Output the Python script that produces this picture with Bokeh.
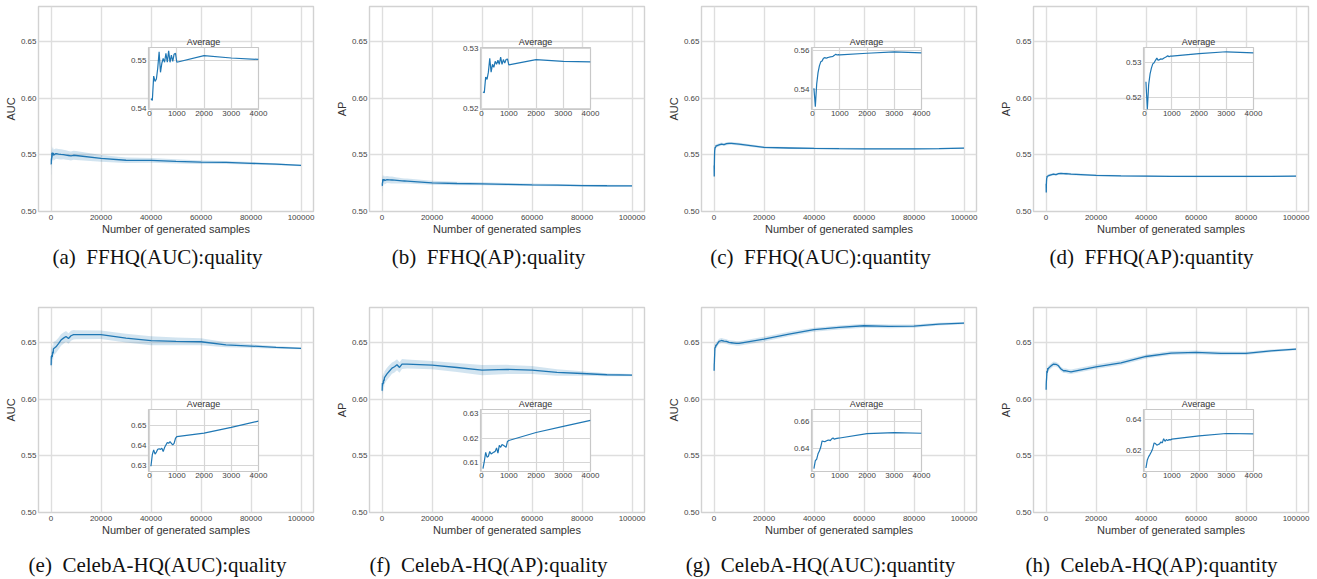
import numpy as np
from bokeh.plotting import figure
from bokeh.models import FixedTicker, PrintfTickFormatter, NumeralTickFormatter, Range1d
from bokeh.layouts import column
from bokeh.embed import file_html
from bokeh.resources import INLINE

# ---------------- data ----------------
X = [50, 100, 150, 200, 250, 300, 350, 400, 450, 500, 550, 600, 650, 700, 750, 800, 850, 900, 950, 1000,
     2000, 3000, 4000, 5000, 6000, 7000, 8000, 9000, 10000,
     20000, 30000, 40000, 50000, 60000, 70000, 80000, 90000, 100000]
N_INSET = 23  # points with x <= 4000 shown in the "Average" inset

a_mean = [0.5421, 0.5417, 0.5468, 0.5457, 0.5462, 0.5485, 0.5519, 0.5476, 0.5495, 0.5505, 0.5497, 0.5516, 0.5497, 0.5521, 0.5497, 0.5512, 0.5499, 0.5514, 0.5516, 0.5497,
          0.5511, 0.5506, 0.5503, 0.5502, 0.5498, 0.5494, 0.5490, 0.5496, 0.5494,
          0.5468, 0.5452, 0.5451, 0.5442, 0.5435, 0.5433, 0.5425, 0.5417, 0.5406]
a_std = [0.010, 0.009, 0.008, 0.008, 0.007, 0.007, 0.007, 0.0065, 0.0065, 0.006, 0.006, 0.006, 0.0055, 0.0055, 0.0055, 0.005, 0.005, 0.005, 0.005, 0.005,
         0.0045, 0.0045, 0.0045, 0.0042, 0.0042, 0.004, 0.004, 0.004, 0.004,
         0.003, 0.0024, 0.002, 0.0018, 0.0015, 0.0013, 0.0011, 0.0009, 0.0007]

b_mean = [0.5228, 0.5227, 0.5253, 0.5249, 0.5261, 0.5284, 0.5261, 0.5274, 0.5269, 0.5279, 0.5274, 0.5281, 0.5274, 0.5286, 0.5274, 0.5282, 0.5276, 0.5282, 0.5283, 0.5273,
          0.5282, 0.5279, 0.5278, 0.5276, 0.5274, 0.5272, 0.5270, 0.5269, 0.5268,
          0.5253, 0.5247, 0.5244, 0.5240, 0.5235, 0.5232, 0.5229, 0.5227, 0.5226]
b_std = [0.006, 0.006, 0.005, 0.005, 0.005, 0.0045, 0.0045, 0.0045, 0.004, 0.004, 0.004, 0.004, 0.004, 0.0035, 0.0035, 0.0035, 0.0035, 0.0035, 0.0035, 0.0035,
         0.003, 0.003, 0.003, 0.0028, 0.0026, 0.0025, 0.0024, 0.0023, 0.0022,
         0.0018, 0.0015, 0.0013, 0.0012, 0.0011, 0.001, 0.0009, 0.0008, 0.0007]

c_mean = [0.5405, 0.5308, 0.5426, 0.5487, 0.5522, 0.5543, 0.5548, 0.5562, 0.5565, 0.5562, 0.5565, 0.5567, 0.5569, 0.5570, 0.5572, 0.5577, 0.5583, 0.5579, 0.5581, 0.5579,
          0.5588, 0.5595, 0.5590, 0.5598, 0.5600, 0.5600, 0.5598, 0.5596, 0.5594,
          0.5565, 0.5560, 0.5556, 0.5554, 0.5553, 0.5553, 0.5553, 0.5555, 0.5559]
c_std = [0.003, 0.003, 0.0028, 0.0025, 0.0022, 0.002, 0.002, 0.002, 0.0018, 0.0018, 0.0018, 0.0017, 0.0017, 0.0016, 0.0016, 0.0016, 0.0015, 0.0015, 0.0015, 0.0015,
         0.0014, 0.0014, 0.0013, 0.0013, 0.0013, 0.0012, 0.0012, 0.0012, 0.0012,
         0.001, 0.0009, 0.0008, 0.0008, 0.0007, 0.0007, 0.0007, 0.0006, 0.0006]

d_mean = [0.5245, 0.5167, 0.5237, 0.5266, 0.5283, 0.5295, 0.5298, 0.5305, 0.5311, 0.5305, 0.5307, 0.5309, 0.5308, 0.5311, 0.5313, 0.5315, 0.5318, 0.5315, 0.5317, 0.5317,
          0.5324, 0.5329, 0.5326, 0.5334, 0.5335, 0.5334, 0.5333, 0.5331, 0.5329,
          0.5318, 0.5314, 0.5312, 0.5310, 0.5309, 0.5309, 0.5309, 0.5310, 0.5312]
d_std = [0.0025, 0.0025, 0.0022, 0.002, 0.0018, 0.0017, 0.0016, 0.0015, 0.0015, 0.0015, 0.0014, 0.0014, 0.0014, 0.0013, 0.0013, 0.0013, 0.0012, 0.0012, 0.0012, 0.0012,
         0.0011, 0.0011, 0.001, 0.001, 0.001, 0.001, 0.001, 0.001, 0.001,
         0.0008, 0.0007, 0.0007, 0.0006, 0.0006, 0.0006, 0.0006, 0.0005, 0.0005]

e_mean = [0.6298, 0.6355, 0.6379, 0.6358, 0.6368, 0.6382, 0.6384, 0.6381, 0.6387, 0.6371, 0.6390, 0.6403, 0.6415, 0.6411, 0.6419, 0.6411, 0.6403, 0.6411, 0.6435, 0.6444,
          0.6461, 0.6490, 0.6521, 0.6538, 0.6553, 0.6535, 0.6559, 0.6568, 0.6568,
          0.6568, 0.6538, 0.6515, 0.6509, 0.6506, 0.6479, 0.6468, 0.6456, 0.6447]
e_std = [0.010, 0.009, 0.009, 0.008, 0.008, 0.008, 0.0075, 0.0075, 0.007, 0.007, 0.007, 0.0068, 0.0066, 0.0064, 0.0062, 0.006, 0.006, 0.006, 0.006, 0.006,
         0.0055, 0.0052, 0.005, 0.005, 0.0048, 0.0046, 0.0044, 0.0042, 0.004,
         0.0037, 0.0038, 0.004, 0.0035, 0.003, 0.0022, 0.0016, 0.0012, 0.0008]

f_mean = [0.6074, 0.6104, 0.6141, 0.6121, 0.6125, 0.6145, 0.6134, 0.6138, 0.6142, 0.6145, 0.6159, 0.6138, 0.6170, 0.6162, 0.6173, 0.6170, 0.6166, 0.6162, 0.6186, 0.6190,
          0.6223, 0.6248, 0.6273, 0.6285, 0.6303, 0.6279, 0.6309, 0.6309, 0.6309,
          0.6300, 0.6279, 0.6256, 0.6262, 0.6256, 0.6235, 0.6226, 0.6215, 0.6212]
f_std = [0.009, 0.009, 0.008, 0.008, 0.008, 0.0075, 0.0075, 0.007, 0.007, 0.007, 0.0068, 0.0066, 0.0064, 0.0062, 0.006, 0.006, 0.006, 0.0058, 0.0056, 0.0055,
         0.0054, 0.0052, 0.005, 0.005, 0.0048, 0.0046, 0.0044, 0.0042, 0.004,
         0.0037, 0.004, 0.0045, 0.004, 0.0035, 0.0028, 0.002, 0.0014, 0.001]

g_mean = [0.6250, 0.6310, 0.6320, 0.6360, 0.6380, 0.6410, 0.6455, 0.6452, 0.6450, 0.6455, 0.6460, 0.6462, 0.6458, 0.6470, 0.6478, 0.6468, 0.6472, 0.6474, 0.6476, 0.6477,
          0.6510, 0.6517, 0.6512, 0.6509, 0.6500, 0.6497, 0.6494, 0.6491, 0.6491,
          0.6529, 0.6574, 0.6612, 0.6632, 0.6647, 0.6641, 0.6644, 0.6662, 0.6671]
g_std = [0.006, 0.005, 0.0045, 0.004, 0.0035, 0.0033, 0.003, 0.003, 0.003, 0.0028, 0.0028, 0.0027, 0.0027, 0.0026, 0.0026, 0.0025, 0.0025, 0.0025, 0.0025, 0.0025,
         0.0022, 0.0022, 0.002, 0.002, 0.002, 0.002, 0.002, 0.002, 0.002,
         0.002, 0.002, 0.0018, 0.0018, 0.0017, 0.0016, 0.0014, 0.0012, 0.001]

h_mean = [0.6082, 0.6135, 0.6157, 0.6172, 0.6189, 0.6211, 0.6247, 0.6243, 0.6232, 0.6237, 0.6241, 0.6254, 0.6247, 0.6275, 0.6258, 0.6269, 0.6262, 0.6269, 0.6267, 0.6272,
          0.6293, 0.6309, 0.6307, 0.6294, 0.6265, 0.6250, 0.6250, 0.6244, 0.6241,
          0.6285, 0.6320, 0.6376, 0.6406, 0.6412, 0.6403, 0.6403, 0.6426, 0.6441]
h_std = [0.005, 0.0045, 0.004, 0.0035, 0.0033, 0.003, 0.003, 0.003, 0.0028, 0.0028, 0.0027, 0.0027, 0.0026, 0.0026, 0.0025, 0.0025, 0.0025, 0.0025, 0.0025, 0.0025,
         0.0022, 0.0022, 0.002, 0.002, 0.002, 0.002, 0.002, 0.002, 0.002,
         0.002, 0.002, 0.0018, 0.0018, 0.0017, 0.0016, 0.0014, 0.0012, 0.001]

captions = ["(a)\u2002FFHQ(AUC):quality", "(b)\u2002FFHQ(AP):quality",
            "(c)\u2002FFHQ(AUC):quantity", "(d)\u2002FFHQ(AP):quantity",
            "(e)\u2002CelebA-HQ(AUC):quality", "(f)\u2002CelebA-HQ(AP):quality",
            "(g)\u2002CelebA-HQ(AUC):quantity", "(h)\u2002CelebA-HQ(AP):quantity"]
ylabels = ["AUC", "AP", "AUC", "AP", "AUC", "AP", "AUC", "AP"]
means = [a_mean, b_mean, c_mean, d_mean, e_mean, f_mean, g_mean, h_mean]
stds = [a_std, b_std, c_std, d_std, e_std, f_std, g_std, h_std]

main_xticks = [0, 20000, 40000, 60000, 80000, 100000]
main_yticks = [0.50, 0.55, 0.60, 0.65]
inset_xticks = [0, 1000, 2000, 3000, 4000]
inset_yticks = [[0.54, 0.55], [0.52, 0.53], [0.54, 0.56], [0.52, 0.53],
                [0.63, 0.64, 0.65], [0.61, 0.62, 0.63], [0.64, 0.66], [0.62, 0.64]]
inset_yrange = [(0.5398, 0.5528), (0.5199, 0.5302), (0.5294, 0.5618), (0.5167, 0.5341),
                (0.6272, 0.6578), (0.6062, 0.6318), (0.6229, 0.6688), (0.6059, 0.6467)]

# ---------------- layout / style ----------------
LINE = "#1f77b4"
SANS = "Liberation Sans"
SERIF = "Liberation Serif"
GRID = "#dedede"
FRAME = "#d2d2d2"

FRAME_L = [38, 369, 701, 1033]
FRAME_T = [6, 307]
FW, FH = 275, 205
INSET_L = [148, 480, 811, 1143]
INSET_T = [47, 409]
IW, IH = 110, 62
CAP_CX = [157, 488, 820, 1151]
CAP_TOP = [242, 550]
CAP_W = 330

# Bokeh aligns left/right borders of all plots in one column, so use the same everywhere
BL, BR = 56, 16
MB_T, MB_B = 6, 34
IB_T, IB_B = 16, 20

figs = []


def place(fig, left, top):
    fig.styles = {"position": "absolute", "left": f"{left}px", "top": f"{top}px"}
    figs.append(fig)


def style_axes(p, fs):
    for ax in (p.xaxis[0], p.yaxis[0]):
        ax.axis_line_color = None
        ax.major_tick_line_color = None
        ax.minor_tick_line_color = None
        ax.major_tick_out = 0
        ax.major_tick_in = 0
        ax.minor_tick_out = 0
        ax.minor_tick_in = 0
        ax.major_label_text_font = SANS
        ax.major_label_text_font_size = fs
        ax.major_label_text_color = "#444444"
        ax.major_label_standoff = 2
    p.grid.grid_line_color = GRID
    p.grid.grid_line_width = 1.4


for i in range(8):
    col, row = i % 4, i // 4
    xs = np.array(X, dtype=float)
    ys = np.array(means[i])
    sd = np.array(stds[i])

    p = figure(frame_width=FW, frame_height=FH,
               x_range=Range1d(-5000, 105000), y_range=Range1d(0.50, 0.6808),
               min_border_left=BL, min_border_right=BR, min_border_top=MB_T, min_border_bottom=MB_B,
               toolbar_location=None, output_backend="svg",
               background_fill_color="white", border_fill_color=None,
               outline_line_color=FRAME, outline_line_width=1.4)
    style_axes(p, "8px")
    p.xaxis.major_label_standoff = 3
    p.xaxis.ticker = FixedTicker(ticks=main_xticks)
    p.xaxis.formatter = NumeralTickFormatter(format="0")
    p.yaxis.ticker = FixedTicker(ticks=main_yticks)
    p.yaxis.formatter = PrintfTickFormatter(format="%.2f")
    p.xaxis.axis_label = "Number of generated samples"
    p.yaxis.axis_label = ylabels[i]
    for ax in (p.xaxis[0], p.yaxis[0]):
        ax.axis_label_text_font = SANS
        ax.axis_label_text_font_size = "11px"
        ax.axis_label_text_font_style = "normal"
        ax.axis_label_text_color = "#333333"
    p.xaxis.axis_label_standoff = 0
    p.yaxis.axis_label_standoff = 1
    p.varea(x=xs, y1=ys - sd, y2=ys + sd, fill_color=LINE, fill_alpha=0.2)
    p.line(x=xs, y=ys, line_color=LINE, line_width=1.3)
    place(p, FRAME_L[col] - BL, FRAME_T[row] - MB_T)

    # inset "Average"
    yr = inset_yrange[i]
    q = figure(frame_width=IW, frame_height=IH,
               x_range=Range1d(-40, 4000), y_range=Range1d(yr[0], yr[1]),
               min_border_left=BL, min_border_right=BR, min_border_top=IB_T, min_border_bottom=IB_B,
               toolbar_location=None, output_backend="svg", title="Average",
               background_fill_color="white", border_fill_color=None,
               outline_line_color="#c8c8c8", outline_line_width=1.2)
    style_axes(q, "8px")
    q.xaxis.major_label_standoff = 1
    q.xaxis.ticker = FixedTicker(ticks=inset_xticks)
    q.xaxis.formatter = NumeralTickFormatter(format="0")
    q.yaxis.ticker = FixedTicker(ticks=inset_yticks[i])
    q.yaxis.formatter = PrintfTickFormatter(format="%.2f")
    q.grid.grid_line_color = "#d6d6d6"
    q.grid.grid_line_width = 1.2
    q.title.align = "center"
    q.title.text_font = SANS
    q.title.text_font_size = "9px"
    q.title.text_font_style = "normal"
    q.title.text_color = "#333333"
    q.title.standoff = 2
    q.line(x=xs[:N_INSET], y=ys[:N_INSET], line_color=LINE, line_width=1.2)
    place(q, INSET_L[col] - BL, INSET_T[row] - IB_T)

    # caption
    c = figure(width=CAP_W, height=32, x_axis_type=None, y_axis_type=None,
               toolbar_location=None, output_backend="svg",
               min_border_left=BL, min_border_right=BR, min_border_top=0, min_border_bottom=0,
               outline_line_color=None, border_fill_color=None, background_fill_color=None,
               title=captions[i])
    c.grid.visible = False
    c.title.align = "center"
    c.title.text_font = SERIF
    c.title.text_font_size = "21px"
    c.title.text_font_style = "normal"
    c.title.text_color = "#111111"
    c.title.standoff = 0
    cap_center_offset = BL + (CAP_W - BL - BR) / 2
    place(c, round(CAP_CX[col] - cap_center_offset), CAP_TOP[row])

root = column(*figs, width=1317, height=579, sizing_mode="fixed",
              styles={"position": "relative"})

with open("out.html", "w") as f:
    f.write(file_html(root, INLINE))
